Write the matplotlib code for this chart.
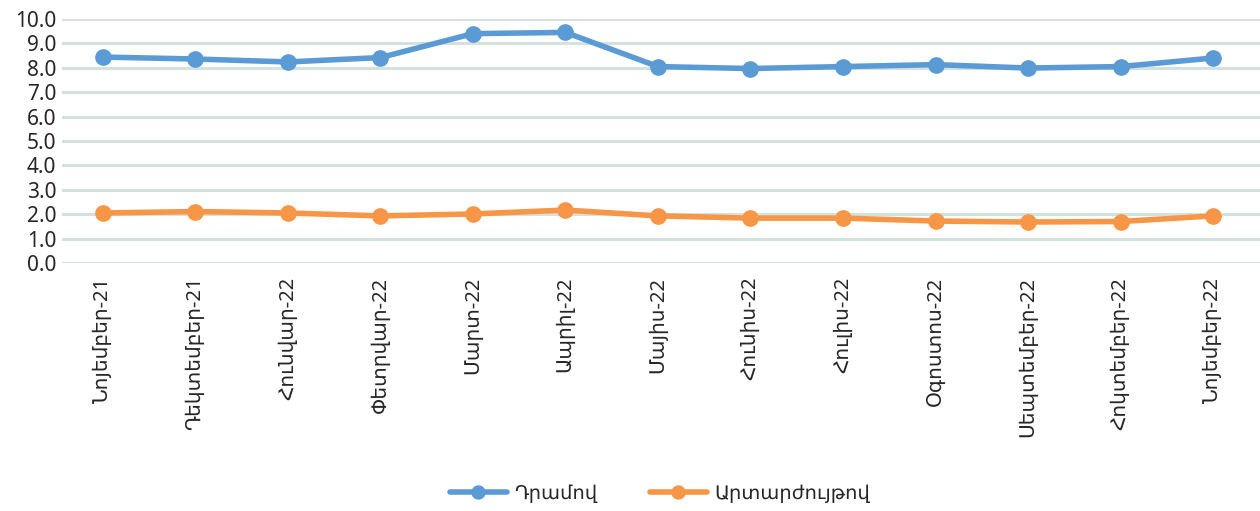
import matplotlib

matplotlib.use("Agg")
import matplotlib.pyplot as plt  # noqa: E402

plt.rcParams["font.family"] = ["Noto Sans", "DejaVu Sans"]

months = [
    "Նոյեմբեր-21", "Դեկտեմբեր-21", "Հունվար-22", "Փետրվար-22", "Մարտ-22",
    "Ապրիլ-22", "Մայիս-22", "Հունիս-22", "Հուլիս-22", "Օգոստոս-22",
    "Սեպտեմբեր-22", "Հոկտեմբեր-22", "Նոյեմբեր-22",
]
dram = [8.44, 8.36, 8.24, 8.42, 9.40, 9.45, 8.05, 7.97, 8.05, 8.13, 7.99, 8.05, 8.40]
fx = [2.05, 2.11, 2.05, 1.93, 2.01, 2.17, 1.93, 1.84, 1.84, 1.72, 1.68, 1.70, 1.93]
series_names = ["Դրամով", "Արտարժույթով"]

BLUE = "#5B9BD5"
ORANGE = "#F79646"
GRID = "#D5E1DF"
TEXT = "#262626"

fig = plt.figure(figsize=(12.6, 5.11), dpi=100)
ax = fig.add_axes([62 / 1260, 1 - 263 / 511, 1 - 62 / 1260, (263 - 19) / 511])

x = list(range(len(months)))
ax.plot(x, dram, color=BLUE, lw=4, marker="o", ms=11, label=series_names[0],
        solid_capstyle="round", zorder=3)
ax.plot(x, fx, color=ORANGE, lw=4, marker="o", ms=11, label=series_names[1],
        solid_capstyle="round", zorder=3)

ax.set_ylim(0, 10)
ax.set_xlim(-0.443, 12.508)
ax.set_yticks([i for i in range(11)])
ax.set_yticklabels([f"{i:.1f}" for i in range(11)])
ax.set_xticks(x)
ax.set_xticklabels(months, rotation=90)
ax.tick_params(axis="both", length=0, colors=TEXT)
ax.tick_params(axis="y", pad=4, labelsize=15)
ax.tick_params(axis="x", pad=10, labelsize=14.5)
ax.yaxis.grid(True, color=GRID, lw=2.2)
ax.set_axisbelow(True)
for s in ax.spines.values():
    s.set_visible(False)

leg = fig.legend(loc="lower center", bbox_to_anchor=(0.524, -0.02), ncol=2,
                 frameon=False, fontsize=14, handlelength=2.9, columnspacing=2.7,
                 handletextpad=0.4, labelcolor=TEXT, markerscale=0.85)

fig.savefig("out.png", dpi=100)
